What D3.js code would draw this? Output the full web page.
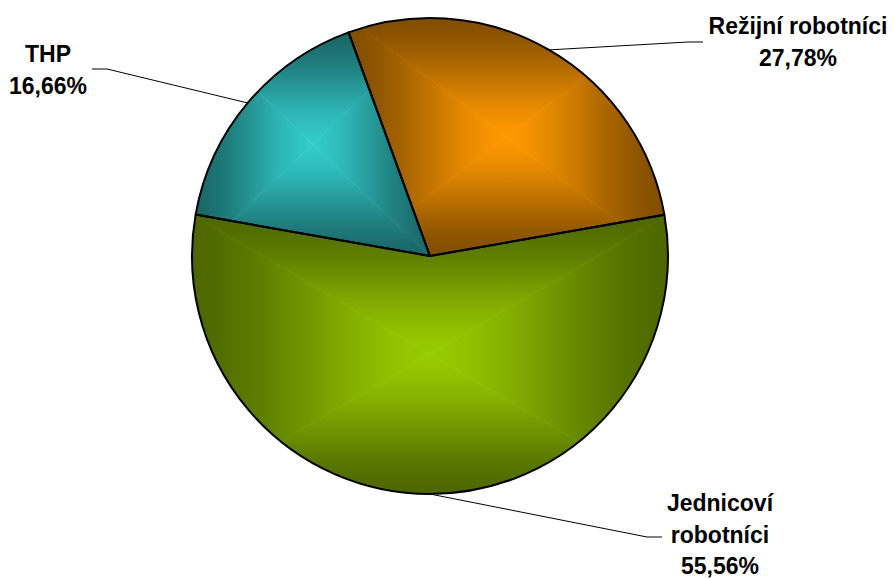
<!DOCTYPE html>
<html>
<head>
<meta charset="utf-8">
<script src="https://cdn.jsdelivr.net/npm/d3@7"></script>
<style>
  html, body { margin: 0; padding: 0; background: #ffffff; }
  svg { display: block; }
  text { font-family: "Liberation Sans", Arial, sans-serif; font-weight: bold; font-size: 23px; fill: #000; }
</style>
</head>
<body>
<svg id="chart" width="894" height="579"></svg>
<script>
// ---- data ----
const categories = ["Režijní robotníci", "Jednicoví robotníci", "THP"];
const values = [27.78, 55.56, 16.66];
const percentLabels = ["27,78%", "55,56%", "16,66%"];
const labelLines = [["Režijní robotníci"], ["Jednicoví", "robotníci"], ["THP"]];
const brightColors = ["#FF9900", "#99CC00", "#33CCCC"];

// ---- layout ----
const W = 894, H = 579;
const cx = 430, cy = 256, R = 238;
const startDeg = -20;
const labelLayout = [
  { x: 798, y: 34, elbow: [688, 42], end: [703, 42] },
  { x: 720, y: 511, elbow: [647, 537], end: [662, 537] },
  { x: 48, y: 62, elbow: [107, 69], end: [92, 69] }
];
const lineGap = 31.5;

const svg = d3.select("#chart");
const defs = svg.append("defs");
const g = svg.append("g").attr("transform", `translate(${cx},${cy})`);

const a0 = startDeg * Math.PI / 180;
const pie = d3.pie().sort(null).value(d => d.value).startAngle(a0).endAngle(a0 + 2 * Math.PI);
const data = categories.map((c, i) => ({ name: c, value: values[i], i }));
const arcs = pie(data);
const arc = d3.arc().innerRadius(0).outerRadius(R);
const edgeArc = d3.arc().innerRadius(R).outerRadius(R);

function darker(c) {
  const col = d3.rgb(c);
  return d3.rgb(col.r * 0.5, col.g * 0.5, col.b * 0.5).formatHex();
}
function ease(t) { const s = t * t * (3 - 2 * t); return 0.6 * s + 0.4 * t; }

arcs.forEach(d => {
  const i = d.data.i;
  const pathD = arc(d);
  const tmp = g.append("path").attr("d", pathD);
  const bb = tmp.node().getBBox();
  tmp.remove();
  const x0 = bb.x + cx, y0 = bb.y + cy, x1 = x0 + bb.width, y1 = y0 + bb.height;
  const mx = (x0 + x1) / 2, my = (y0 + y1) / 2;

  const clipId = "clip" + i;
  defs.append("clipPath").attr("id", clipId).append("path")
    .attr("d", pathD).attr("transform", `translate(${cx},${cy})`);

  const bright = brightColors[i], dark = darker(brightColors[i]);
  const interp = d3.interpolateRgb(dark, bright);
  const faces = [
    { id: "gt" + i, pts: [[x0, y0], [x1, y0], [mx, my]], from: [mx, y0] },
    { id: "gb" + i, pts: [[x0, y1], [x1, y1], [mx, my]], from: [mx, y1] },
    { id: "gl" + i, pts: [[x0, y0], [x0, y1], [mx, my]], from: [x0, my] },
    { id: "gr" + i, pts: [[x1, y0], [x1, y1], [mx, my]], from: [x1, my] }
  ];
  faces.forEach(f => {
    const lg = defs.append("linearGradient").attr("id", f.id)
      .attr("gradientUnits", "userSpaceOnUse")
      .attr("x1", f.from[0]).attr("y1", f.from[1])
      .attr("x2", mx).attr("y2", my);
    d3.range(0, 1.0001, 0.1).forEach(t => {
      lg.append("stop").attr("offset", t).attr("stop-color", interp(ease(t)));
    });
  });

  const sg = svg.append("g").attr("clip-path", `url(#${clipId})`);
  faces.forEach((f, j) => {
    sg.append("polygon")
      .attr("points", f.pts.map(p => p.join(",")).join(" "))
      .attr("fill", `url(#${f.id})`)
      .attr("stroke", j < 2 ? `url(#${f.id})` : "none")
      .attr("stroke-width", j < 2 ? 1 : 0);
  });
});

// outlines
const og = svg.append("g").attr("transform", `translate(${cx},${cy})`);
og.selectAll("path.slice").data(arcs).enter().append("path")
  .attr("class", "slice")
  .attr("d", arc)
  .attr("fill", "none")
  .attr("stroke", "#000")
  .attr("stroke-width", 2)
  .attr("stroke-linejoin", "round");

// leader lines and labels
arcs.forEach(d => {
  const i = d.data.i;
  const L = labelLayout[i];
  const p = edgeArc.centroid(d);
  const start = [p[0] + cx, p[1] + cy];
  svg.append("polyline")
    .attr("points", [start, L.elbow, L.end].map(q => q.join(",")).join(" "))
    .attr("fill", "none")
    .attr("stroke", "#000")
    .attr("stroke-width", 1);

  const lines = labelLines[i].concat([percentLabels[i]]);
  const t = svg.append("text").attr("text-anchor", "middle");
  lines.forEach((s, j) => {
    t.append("tspan").attr("x", L.x).attr("y", L.y + j * lineGap).text(s);
  });
});
</script>
</body>
</html>
